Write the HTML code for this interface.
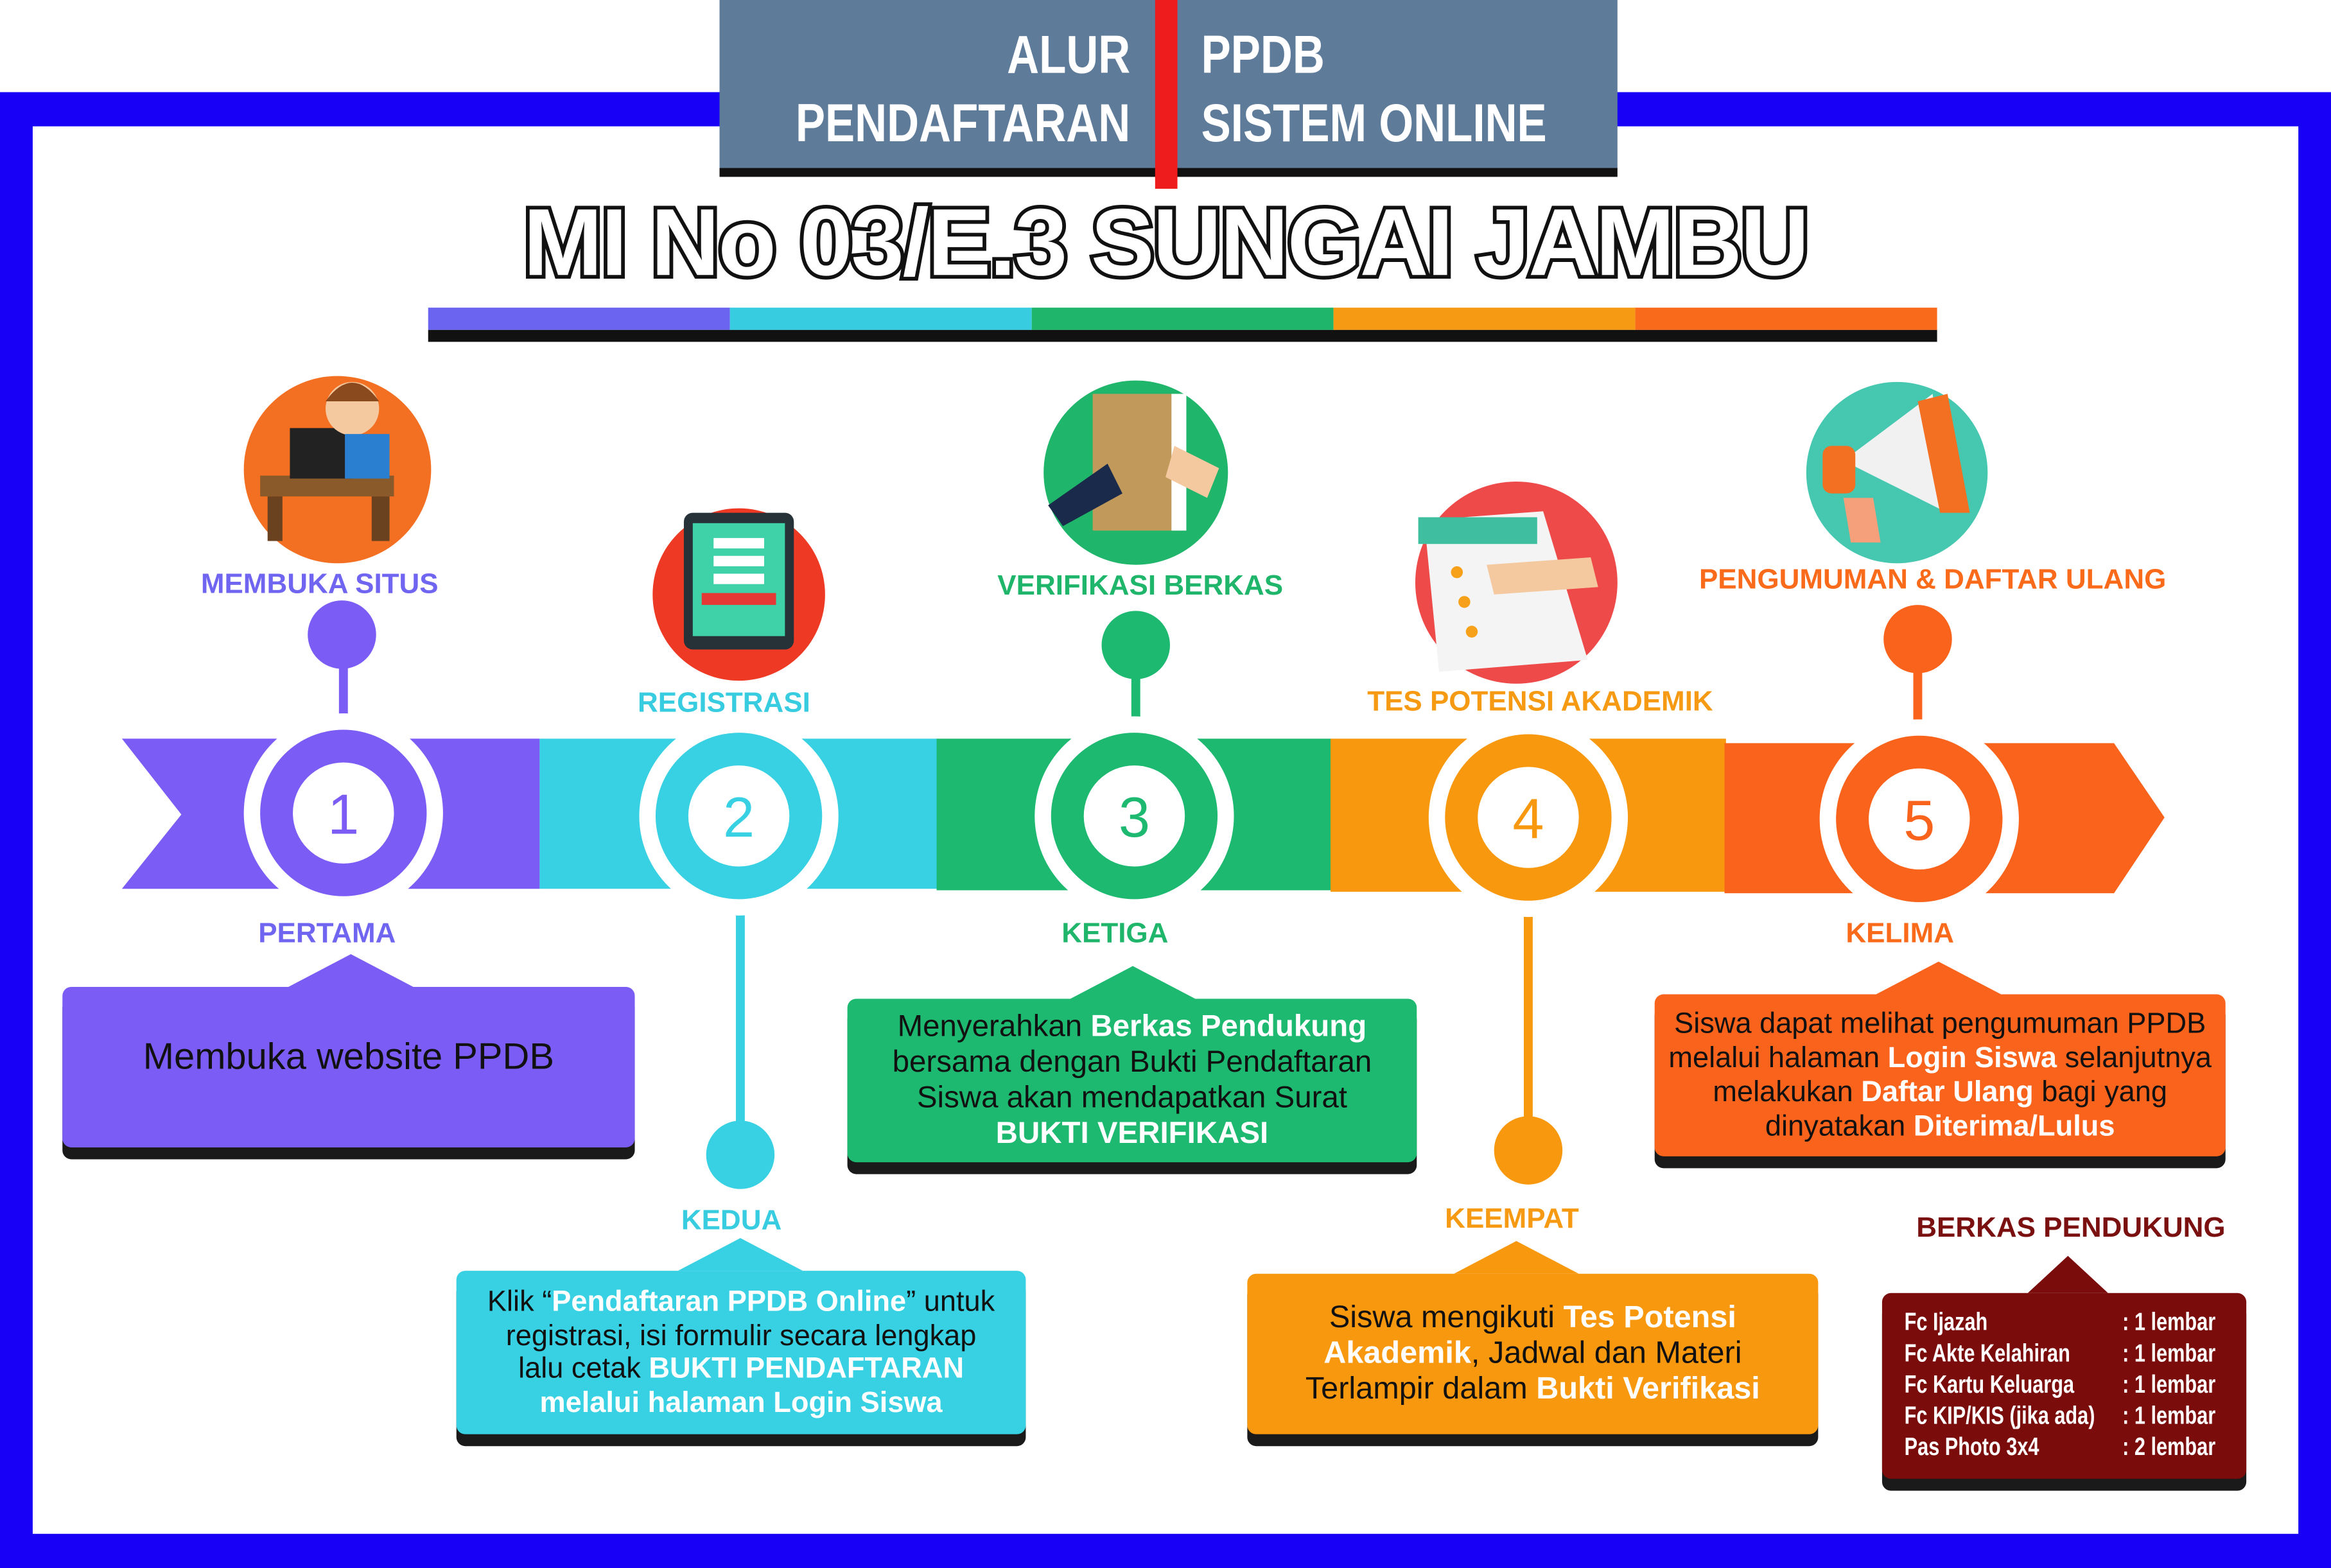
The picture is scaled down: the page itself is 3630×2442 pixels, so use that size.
<!DOCTYPE html>
<html><head><meta charset="utf-8"><style>
*{margin:0;padding:0;box-sizing:border-box}
html,body{width:3630px;height:2442px;overflow:hidden;background:#fff}
#w{position:absolute;left:0;top:0;width:1568px;height:1055px;transform:scale(2.3151,2.3147);transform-origin:0 0;font-family:"Liberation Sans",sans-serif}
.a{position:absolute}
.lbl{position:absolute;font-weight:bold;font-size:19px;white-space:nowrap;transform:translateX(-50%)}
.box{position:absolute;border-radius:6px;box-shadow:0 8px 0 #1a1a1a;text-align:center;color:#111;display:flex;align-items:center;justify-content:center;flex-direction:column}
.box b{color:#fff}
.hd{position:absolute;color:#fff;font-weight:bold;font-size:36px;line-height:46px;white-space:nowrap}
</style></head><body><div id="w">
<div class="a" style="left:0;top:62px;width:1568px;height:993px;background:#1700f5"></div>
<div class="a" style="left:22px;top:85px;width:1524px;height:947px;background:#fff"></div>
<div class="a" style="left:484px;top:0;width:604px;height:113px;background:#5e7b9a"></div>
<div class="a" style="left:484px;top:113px;width:604px;height:6px;background:#111"></div>
<div class="a" style="left:777px;top:0;width:15px;height:127px;background:#ee1c1c"></div>
<div class="hd" style="right:808px;top:14px;text-align:right;transform:scaleX(0.83);transform-origin:right top">ALUR<br>PENDAFTARAN</div>
<div class="hd" style="left:808px;top:14px;transform:scaleX(0.83);transform-origin:left top">PPDB<br>SISTEM ONLINE</div>
<div class="a" style="left:0;width:1568px;top:126px;text-align:center;font-size:64px;font-weight:900;color:#fff;-webkit-text-stroke:5px #111;paint-order:stroke fill;letter-spacing:-1px">MI No 03/E.3 SUNGAI JAMBU</div>
<div class="a" style="left:288px;top:207px;width:203px;height:15px;background:#6a64f0"></div>
<div class="a" style="left:491px;top:207px;width:203px;height:15px;background:#38cce0"></div>
<div class="a" style="left:694px;top:207px;width:203px;height:15px;background:#1fb56a"></div>
<div class="a" style="left:897px;top:207px;width:203px;height:15px;background:#f59a12"></div>
<div class="a" style="left:1100px;top:207px;width:203px;height:15px;background:#f96a1a"></div>
<div class="a" style="left:288px;top:222px;width:1015px;height:8px;background:#111"></div>
<svg class="a" style="left:0;top:0" width="1568" height="1055">
<polygon points="82,497 363,497 363,598 82,598 122,548" fill="#7b5cf5"/>
<rect x="363" y="497" width="268" height="101" fill="#38d1e3"/>
<rect x="630" y="497" width="266" height="102" fill="#1db970"/>
<rect x="895" y="497" width="266" height="103" fill="#f7980f"/>
<polygon points="1160,500 1422,500 1456,550 1422,601 1160,601" fill="#f9631c"/>
<rect x="228" y="427" width="6" height="70" fill="#7b5cf5"/>
<rect x="495" y="560" width="6" height="217" fill="#38d1e3"/>
<rect x="761" y="434" width="6" height="70" fill="#1db970"/>
<rect x="1025" y="560" width="6" height="214" fill="#f7980f"/>
<rect x="1287" y="430" width="6" height="70" fill="#f9631c"/>
<circle cx="230" cy="427" r="23" fill="#7b5cf5"/>
<circle cx="498" cy="777" r="23" fill="#38d1e3"/>
<circle cx="764" cy="434" r="23" fill="#1db970"/>
<circle cx="1028" cy="774" r="23" fill="#f7980f"/>
<circle cx="1290" cy="430" r="23" fill="#f9631c"/>
<g font-family="Liberation Sans" font-size="38" text-anchor="middle">
<circle cx="231" cy="547" r="67" fill="#fff"/><circle cx="231" cy="547" r="56" fill="#7b5cf5"/><circle cx="231" cy="547" r="34" fill="#fff"/><text x="231" y="561" fill="#7b5cf5">1</text>
<circle cx="497" cy="549" r="67" fill="#fff"/><circle cx="497" cy="549" r="56" fill="#38d1e3"/><circle cx="497" cy="549" r="34" fill="#fff"/><text x="497" y="563" fill="#38d1e3">2</text>
<circle cx="763" cy="549" r="67" fill="#fff"/><circle cx="763" cy="549" r="56" fill="#1db970"/><circle cx="763" cy="549" r="34" fill="#fff"/><text x="763" y="563" fill="#1db970">3</text>
<circle cx="1028" cy="550" r="67" fill="#fff"/><circle cx="1028" cy="550" r="56" fill="#f7980f"/><circle cx="1028" cy="550" r="34" fill="#fff"/><text x="1028" y="564" fill="#f7980f">4</text>
<circle cx="1291" cy="551" r="67" fill="#fff"/><circle cx="1291" cy="551" r="56" fill="#f9631c"/><circle cx="1291" cy="551" r="34" fill="#fff"/><text x="1291" y="565" fill="#f9631c">5</text>
</g>
<circle cx="227" cy="316" r="63" fill="#f36f21"/>
<rect x="175" y="320" width="90" height="14" fill="#8b5a2b"/><rect x="180" y="334" width="10" height="30" fill="#6b4220"/><rect x="250" y="334" width="12" height="30" fill="#6b4220"/>
<rect x="195" y="288" width="42" height="34" fill="#222"/><circle cx="237" cy="275" r="18" fill="#f5c9a0"/><path d="M219 270 q18 -25 36 0 z" fill="#8b4a1e"/><rect x="232" y="292" width="30" height="30" fill="#2a7fd0"/>
<circle cx="497" cy="400" r="58" fill="#ee3a24"/>
<rect x="460" y="345" width="74" height="92" rx="6" fill="#263238"/><rect x="466" y="352" width="62" height="76" fill="#3fd1a8"/><rect x="480" y="362" width="34" height="7" fill="#fff"/><rect x="480" y="374" width="34" height="7" fill="#fff"/><rect x="480" y="386" width="34" height="7" fill="#fff"/><rect x="472" y="399" width="50" height="8" fill="#e53935"/>
<circle cx="764" cy="318" r="62" fill="#1fb56a"/>
<rect x="735" y="265" width="60" height="92" fill="#c19a5b"/><rect x="788" y="265" width="10" height="92" fill="#fff"/><path d="M705 340 l40 -28 l10 20 l-40 22z" fill="#1a2a4a"/><path d="M790 300 l30 15 l-8 20 l-28 -14z" fill="#f5c9a0"/>
<circle cx="1020" cy="392" r="68" fill="#ef4a4a"/>
<path d="M958 350 l80 -6 l30 100 l-100 8z" fill="#f4f4f4"/><rect x="954" y="348" width="80" height="18" fill="#3fbfa0"/><circle cx="980" cy="385" r="4" fill="#f7a11a"/><circle cx="985" cy="405" r="4" fill="#f7a11a"/><circle cx="990" cy="425" r="4" fill="#f7a11a"/><path d="M1000 380 l70 -5 l5 20 l-70 5z" fill="#f5c9a0"/>
<circle cx="1276" cy="318" r="61" fill="#45c7b0"/>
<path d="M1240 310 l60 -45 l10 80 z" fill="#f1f1f1"/><path d="M1290 270 l20 -5 l15 80 l-20 0z" fill="#f36f21"/><rect x="1226" y="300" width="22" height="32" rx="6" fill="#f36f21"/><path d="M1240 335 l20 0 l5 30 l-20 0z" fill="#f5a07a"/>
<polygon points="194,664 236,642 278,664" fill="#7b5cf5"/>
<polygon points="456,855 498,833 540,855" fill="#38d1e3"/>
<polygon points="720,672 762,650 804,672" fill="#1db970"/>
<polygon points="978,857 1020,835 1062,857" fill="#f7980f"/>
<polygon points="1262,669 1304,647 1346,669" fill="#f9631c"/>
<polygon points="1364,870 1391,845 1418,870" fill="#7a0c0c"/>
</svg>
<div class="lbl" style="left:215px;top:383px;color:#7065f0">MEMBUKA SITUS</div>
<div class="lbl" style="left:487px;top:463px;color:#38cce0">REGISTRASI</div>
<div class="lbl" style="left:767px;top:384px;color:#1fb56a">VERIFIKASI BERKAS</div>
<div class="lbl" style="left:1036px;top:462px;color:#f59a12">TES POTENSI AKADEMIK</div>
<div class="lbl" style="left:1300px;top:380px;color:#f96a1a">PENGUMUMAN &amp; DAFTAR ULANG</div>
<div class="lbl" style="left:220px;top:618px;color:#7065f0">PERTAMA</div>
<div class="lbl" style="left:492px;top:811px;color:#38cce0">KEDUA</div>
<div class="lbl" style="left:750px;top:618px;color:#1fb56a">KETIGA</div>
<div class="lbl" style="left:1017px;top:810px;color:#f59a12">KEEMPAT</div>
<div class="lbl" style="left:1278px;top:618px;color:#f96a1a">KELIMA</div>
<div class="lbl" style="left:1393px;top:816px;color:#7a1010">BERKAS PENDUKUNG</div>
<div class="box" style="left:42px;top:664px;width:385px;height:108px;background:#7b5cf5;font-size:25px;padding-bottom:14px">Membuka website PPDB</div>
<div class="box" style="left:307px;top:855px;width:383px;height:110px;background:#38d1e3;font-size:19.5px;line-height:22.5px">
<div>Klik “<b>Pendaftaran PPDB Online</b>” untuk</div><div>registrasi, isi formulir secara lengkap</div><div>lalu cetak <b>BUKTI PENDAFTARAN</b></div><div><b>melalui halaman Login Siswa</b></div></div>
<div class="box" style="left:570px;top:672px;width:383px;height:110px;background:#1db970;font-size:20.5px;line-height:24px">
<div>Menyerahkan <b>Berkas Pendukung</b></div><div>bersama dengan Bukti Pendaftaran</div><div>Siswa akan mendapatkan Surat</div><div><b>BUKTI VERIFIKASI</b></div></div>
<div class="box" style="left:839px;top:857px;width:384px;height:108px;background:#f7980f;font-size:21px;line-height:24px">
<div>Siswa mengikuti <b>Tes Potensi</b></div><div><b>Akademik</b>, Jadwal dan Materi</div><div>Terlampir dalam <b>Bukti Verifikasi</b></div></div>
<div class="box" style="left:1113px;top:669px;width:384px;height:109px;background:#f9631c;font-size:19.5px;line-height:23px">
<div>Siswa dapat melihat pengumuman PPDB</div><div>melalui halaman <b>Login Siswa</b> selanjutnya</div><div>melakukan <b>Daftar Ulang</b> bagi yang</div><div>dinyatakan <b>Diterima/Lulus</b></div></div>
<div class="a" style="left:1266px;top:870px;width:245px;height:125px;background:#7a0c0c;border-radius:6px;box-shadow:0 8px 0 #1a1a1a"></div>
<div class="a" style="left:1281px;top:879px;color:#fff;font-weight:bold;font-size:17px;line-height:21px;white-space:nowrap;transform:scaleX(0.78);transform-origin:left top">
<div style="display:grid;grid-template-columns:188px 100px">
<span>Fc Ijazah</span><span>: 1 lembar</span><span>Fc Akte Kelahiran</span><span>: 1 lembar</span><span>Fc Kartu Keluarga</span><span>: 1 lembar</span><span>Fc KIP/KIS (jika ada)</span><span>: 1 lembar</span><span>Pas Photo 3x4</span><span>: 2 lembar</span></div></div>
</div></body></html>
